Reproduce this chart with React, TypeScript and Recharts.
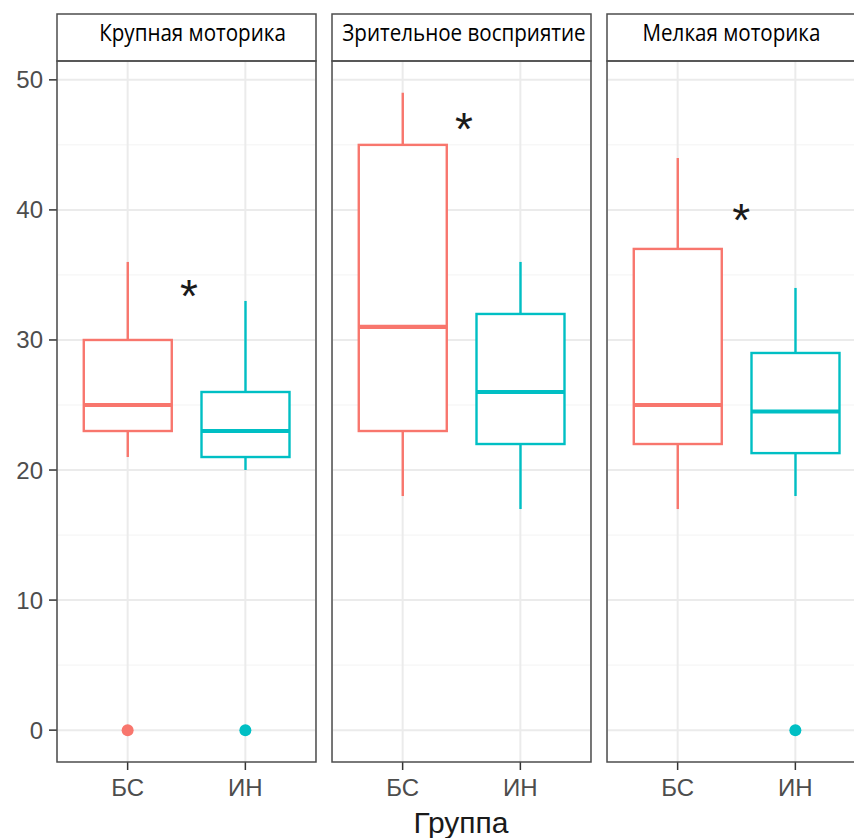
import React from "react";
import {
  Bar,
  CartesianGrid,
  ComposedChart,
  ReferenceDot,
  Scatter,
  XAxis,
  YAxis,
} from "recharts";

const groups = ["БС", "ИН"];
const facets = ["Крупная моторика", "Зрительное восприятие", "Мелкая моторика"];
const whiskerLow = [[21, 20], [18, 17], [17, 18]];
const q1 = [[23, 21], [23, 22], [22, 21.3]];
const median = [[25, 23], [31, 26], [25, 24.5]];
const q3 = [[30, 26], [45, 32], [37, 29]];
const whiskerHigh = [[36, 33], [49, 36], [44, 34]];
const outliers = [[[0], [0]], [[], []], [[], [0]]];
const starX = [1.52, 1.52, 1.54];
const starY = [34, 46.8, 39.8];
const yTicks = [0, 10, 20, 30, 40, 50];
const yMinor = [5, 15, 25, 35, 45];
const colors = ["#F8766D", "#00BFC4"];

// layout (px)
const W = 854;
const H = 838;
const STRIP_TOP = 14;
const PLOT_TOP = 61;
const PLOT_BOTTOM = 762;
const PANEL_W = 259;
const AXIS_W = 57;
const panelLeft = [57, 332, 607];
const stripNudge = [6, 2.5, -5];
const PAD = PANEL_W * 0.04545;
const Y_DOMAIN: [number, number] = [-2.45, 51.45];

const tickFont = { fontSize: 24, fill: "#4d4d4d", fontFamily: "Liberation Sans" };

function BoxShape(props: any) {
  const { x, y, width, height, payload } = props;
  const { lo, hi, color } = payload;
  const top = Math.min(y, y + height);
  const bot = Math.max(y, y + height);
  const py = (v: number) => top + ((hi - v) / (hi - lo)) * (bot - top);
  const cx = x + width / 2;
  return (
    <g>
      <line x1={cx} x2={cx} y1={py(hi)} y2={py(payload.q3)} stroke={color} strokeWidth={2.4} />
      <line x1={cx} x2={cx} y1={py(payload.q1)} y2={py(lo)} stroke={color} strokeWidth={2.4} />
      <rect
        x={x}
        y={py(payload.q3)}
        width={width}
        height={py(payload.q1) - py(payload.q3)}
        fill="#fff"
        stroke={color}
        strokeWidth={2.4}
      />
      <line x1={x} x2={x + width} y1={py(payload.med)} y2={py(payload.med)} stroke={color} strokeWidth={4.2} />
    </g>
  );
}

function Star(props: any) {
  return (
    <text
      x={props.cx}
      y={props.cy}
      dy="0.52em"
      textAnchor="middle"
      fontSize={46}
      fontFamily="Liberation Sans"
      fill="#1a1a1a"
    >
      *
    </text>
  );
}

function Facet({ i }: { i: number }) {
  const first = i === 0;
  const data = groups.map((g, j) => ({
    g,
    range: [whiskerLow[i][j], whiskerHigh[i][j]],
    lo: whiskerLow[i][j],
    hi: whiskerHigh[i][j],
    q1: q1[i][j],
    med: median[i][j],
    q3: q3[i][j],
    color: colors[j],
  }));
  const outs = outliers[i].flatMap((vals, j) =>
    vals.map((v) => ({ x: j + 1, y: v, color: colors[j] }))
  );
  const width = PANEL_W + (first ? AXIS_W : 0);
  return (
    <div style={{ position: "absolute", left: first ? 0 : panelLeft[i], top: 0 }}>
      <ComposedChart
        width={width}
        height={H}
        data={data}
        margin={{ top: PLOT_TOP, right: 0, bottom: 0, left: 0 }}
      >
        <CartesianGrid vertical={false} horizontalValues={yMinor} stroke="#f3f3f3" strokeWidth={1} />
        <CartesianGrid vertical={false} horizontalValues={yTicks} stroke="#ebebeb" strokeWidth={2} />
        <CartesianGrid horizontal={false} stroke="#ebebeb" strokeWidth={2} />
        <XAxis
          dataKey="g"
          type="category"
          padding={{ left: PAD, right: PAD }}
          height={H - PLOT_BOTTOM}
          axisLine={false}
          tickSize={8}
          tickMargin={9}
          tickLine={{ stroke: "#333", strokeWidth: 1.5 }}
          tick={tickFont}
        />
        <XAxis xAxisId="num" dataKey="x" type="number" domain={[0.4, 2.6]} hide allowDataOverflow />
        <YAxis
          type="number"
          domain={Y_DOMAIN}
          ticks={yTicks}
          interval={0}
          allowDataOverflow
          hide={!first}
          width={AXIS_W}
          axisLine={false}
          tickSize={8}
          tickMargin={6}
          tickLine={{ stroke: "#333", strokeWidth: 1.5 }}
          tick={tickFont}
        />
        <Bar dataKey="range" barSize={88} shape={BoxShape} isAnimationActive={false} />
        <Scatter
          xAxisId="num"
          data={outs}
          dataKey="y"
          isAnimationActive={false}
          shape={(p: any) => <circle cx={p.cx} cy={p.cy} r={6} fill={p.payload.color} />}
        />
        <ReferenceDot xAxisId="num" x={starX[i]} y={starY[i]} r={0} shape={Star} />
      </ComposedChart>
    </div>
  );
}

export default function App() {
  return (
    <div
      style={{
        position: "absolute",
        left: 0,
        top: 0,
        width: W,
        height: H,
        overflow: "hidden",
        background: "#fff",
      }}
    >
      {facets.map((_, i) => (
        <Facet key={i} i={i} />
      ))}
      <svg
        width={W}
        height={H}
        style={{ position: "absolute", left: 0, top: 0, pointerEvents: "none" }}
      >
        {facets.map((name, i) => {
          const cx = panelLeft[i] + PANEL_W / 2 + stripNudge[i];
          return (
            <g key={name}>
              <rect
                x={panelLeft[i]}
                y={STRIP_TOP}
                width={PANEL_W}
                height={PLOT_TOP - STRIP_TOP}
                fill="none"
                stroke="#4d4d4d"
                strokeWidth={1.5}
              />
              <rect
                x={panelLeft[i]}
                y={PLOT_TOP}
                width={PANEL_W}
                height={PLOT_BOTTOM - PLOT_TOP}
                fill="none"
                stroke="#4d4d4d"
                strokeWidth={1.5}
              />
              <text
                transform={`translate(${cx} 40.5) scale(0.895 1)`}
                textAnchor="middle"
                fontSize={23}
                fontFamily="Open Sans"
                fill="#000"
              >
                {name}
              </text>
            </g>
          );
        })}
        <text
          x={461}
          y={833}
          textAnchor="middle"
          fontSize={30}
          fontFamily="Liberation Sans"
          fill="#1a1a1a"
        >
          Группа
        </text>
      </svg>
    </div>
  );
}
